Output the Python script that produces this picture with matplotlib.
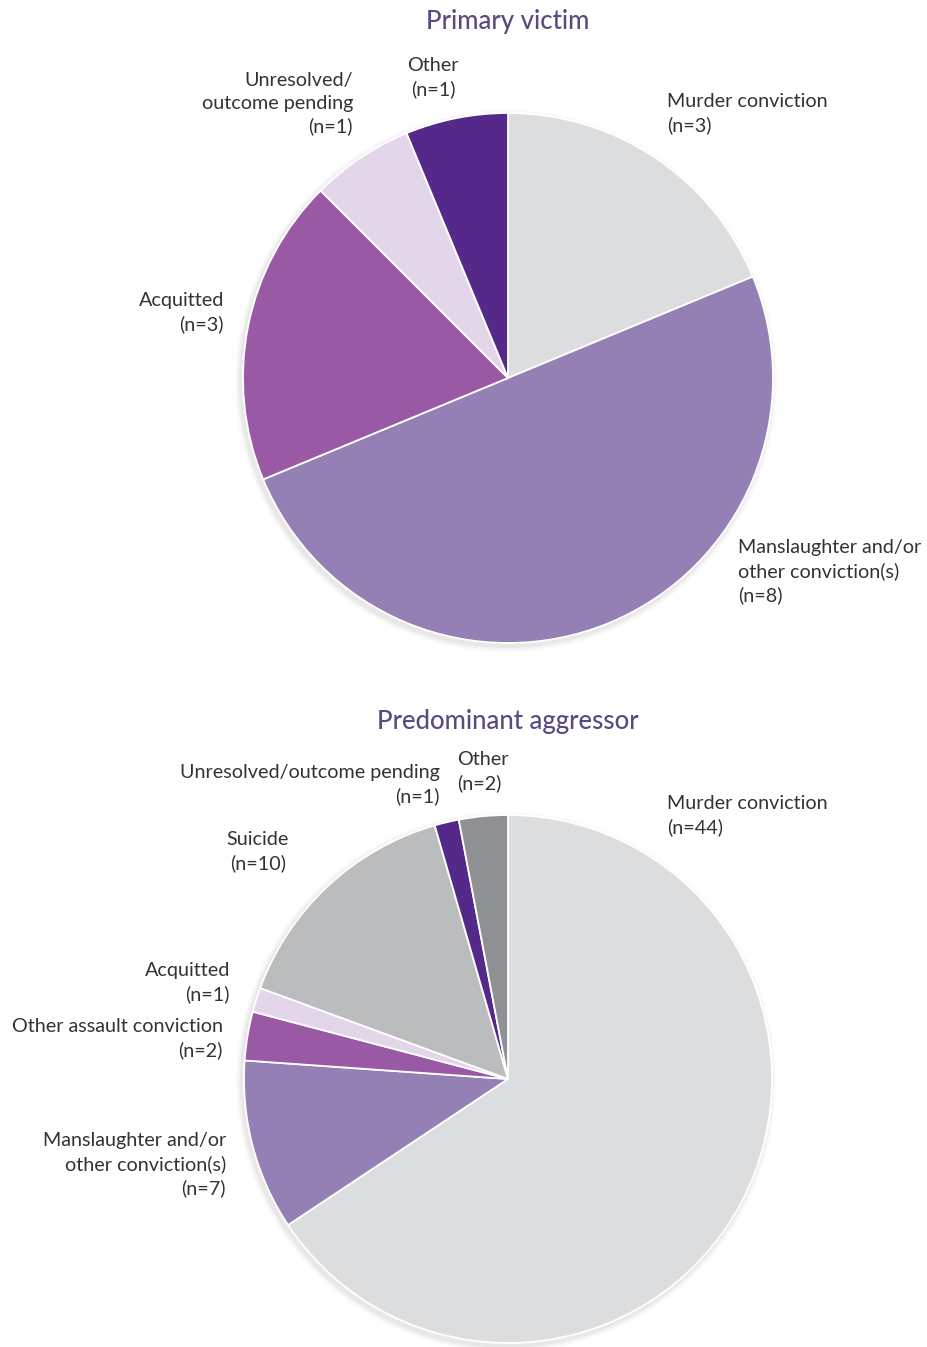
import matplotlib.pyplot as plt
from matplotlib.patches import Circle

# Data
victim_labels = ['Murder conviction', 'Manslaughter and/or other conviction(s)', 'Acquitted',
                 'Unresolved/outcome pending', 'Other']
victim_counts = [3, 8, 3, 1, 1]
victim_colors = ['#dcdddf', '#9580b5', '#9a59a5', '#e3d6ea', '#55298a']

aggressor_labels = ['Murder conviction', 'Manslaughter and/or other conviction(s)',
                    'Other assault conviction', 'Acquitted', 'Suicide',
                    'Unresolved/outcome pending', 'Other']
aggressor_counts = [44, 7, 2, 1, 10, 1, 2]
aggressor_colors = ['#dcdddf', '#9580b5', '#9a59a5', '#e3d6ea', '#bbbcbe', '#55298a', '#8f9093']

plt.rcParams['font.family'] = ['Lato', 'DejaVu Sans']
W, H = 928, 1347
fig = plt.figure(figsize=(W / 100, H / 100), dpi=100)
ax = fig.add_axes([0, 0, 1, 1])
ax.set_xlim(0, W)
ax.set_ylim(H, 0)
ax.set_aspect('equal')
ax.axis('off')

title_color = '#5b4a80'
text_color = '#333333'
fs = 14.2


def draw_pie(counts, colors, cx, cy, r):
    # soft shadow
    for i, a in enumerate([0.04, 0.03, 0.02]):
        ax.add_patch(Circle((cx - 2, cy + 3), r + 2 + 2 * i, color='#000000', alpha=a, lw=0, zorder=0))
    wedges, _ = ax.pie(counts, colors=colors, center=(cx, cy), radius=r,
                       startangle=-90, counterclock=True,
                       wedgeprops=dict(edgecolor='white', linewidth=1.3))
    for w in wedges:
        w.set_zorder(2)
    ax.set_xlim(0, W)
    ax.set_ylim(H, 0)


def label(x, y, s, ha='left'):
    ax.text(x, y, s, ha=ha, va='top', fontsize=fs, color=text_color,
            linespacing=1.4, multialignment=ha, zorder=5)


# Top pie (y axis inverted, so counterclock in data = clockwise on screen)
ax.text(508, 21, 'Primary victim', ha='center', va='center', fontsize=18.5,
        color=title_color, fontweight='medium')
draw_pie(victim_counts, victim_colors, 508, 378, 265)
label(667, 93, 'Murder conviction\n(n=3)')
label(738, 539, 'Manslaughter and/or\nother conviction(s)\n(n=8)')
label(224, 292, 'Acquitted\n(n=3)', ha='right')
label(353, 72, 'Unresolved/\noutcome pending\n(n=1)', ha='right')
label(433, 57, 'Other\n(n=1)', ha='center')

# Bottom pie
ax.text(508, 722, 'Predominant aggressor', ha='center', va='center', fontsize=18.5,
        color=title_color, fontweight='medium')
draw_pie(aggressor_counts, aggressor_colors, 508, 1079, 264)
label(440, 764, 'Unresolved/outcome pending\n(n=1)', ha='right')
label(457, 751, 'Other\n(n=2)')
label(667, 795, 'Murder conviction\n(n=44)')
label(258, 831, 'Suicide\n(n=10)', ha='center')
label(230, 962, 'Acquitted\n(n=1)', ha='right')
label(223, 1018, 'Other assault conviction\n(n=2)', ha='right')
label(226, 1132, 'Manslaughter and/or\nother conviction(s)\n(n=7)', ha='right')

fig.savefig('out.png', dpi=100, facecolor='white')
